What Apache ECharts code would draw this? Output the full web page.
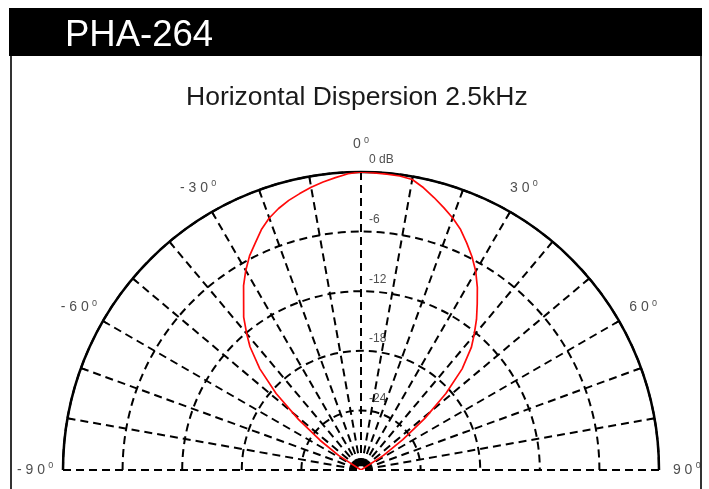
<!DOCTYPE html>
<html><head><meta charset="utf-8">
<script src="https://cdn.jsdelivr.net/npm/echarts@6/dist/echarts.min.js"></script>
<style>html,body{margin:0;padding:0;background:#fff}#c{width:709px;height:489px}</style>
</head><body><div id="c"></div>
<script>
// Polar response (angle in degrees, level in dB)
const angles = [-60,-57,-54,-51,-48,-45,-42,-40,-37.5,-35,-32.5,-30,-27.5,-25,-22.5,-20,-17.5,-15,-12.5,-10,-7.5,-5,-2.5,0,2.5,5,7.5,10,12.5,15,17.5,20,22.5,25,27.5,30,32.5,35,37.5,40,42,45,48,51,54,57,60];
const levels = [-30,-27.3,-24.9,-21.9,-18.5,-15.6,-13.3,-12.1,-10.6,-9.4,-8.0,-6.8,-5.7,-4.8,-3.8,-3.0,-2.4,-1.9,-1.5,-1.1,-0.75,-0.45,-0.15,0,-0.05,-0.1,-0.15,-0.3,-0.9,-1.6,-2.3,-3.0,-3.8,-4.8,-5.8,-6.9,-8.2,-9.6,-10.9,-12.3,-13.4,-15.6,-18.5,-21.7,-24.8,-27.3,-30];
// Radial (dB) ring labels
const ringValues = [0,-6,-12,-18,-24];
const ringLabels = ['0 dB','-6','-12','-18','-24'];
// Angle labels
const angleLabelValues = [-90,-60,-30,0,30,60,90];

const chart = echarts.init(document.getElementById('c'), null, {renderer:'canvas'});
const narrow = "'Liberation Sans Narrow','Liberation Sans',sans-serif";
const dash = [8,5];
const angleLabelRadius = 2.8; // placed just outside the 0 dB rim

function angleText(v){
  return '{n|' + String(v).split('').join(' ') + '} {s|0}';
}

chart.setOption({
  animation:false,
  backgroundColor:'#fff',
  graphic:[
    {type:'rect', shape:{x:9,y:8,width:693,height:48}, style:{fill:'#000'}, z:0},
    {type:'rect', shape:{x:10,y:56,width:2,height:440}, style:{fill:'#333'}, z:0},
    {type:'rect', shape:{x:700,y:56,width:2,height:440}, style:{fill:'#333'}, z:0}
  ],
  title:[
    {text:'PHA-264', left:60, top:12, textStyle:{color:'#fff', fontSize:36.5, fontWeight:'normal', fontFamily:"'Liberation Sans',Arial,sans-serif"}},
    {text:'Horizontal Dispersion 2.5kHz', left:181, top:79, textStyle:{color:'#1a1a1a', fontSize:26.5, fontWeight:'normal', fontFamily:"'Liberation Sans',Arial,sans-serif"}}
  ],
  polar:{center:[361,470], radius:298},
  angleAxis:{
    type:'value', min:-90, max:90, interval:10,
    startAngle:180, endAngle:0, clockwise:true,
    axisLine:{show:true, lineStyle:{color:'#000', width:2.5}},
    axisTick:{show:true, inside:true, length:5, lineStyle:{color:'#000', width:1.5}},
    splitLine:{show:true, lineStyle:{color:'#000', width:2, type:dash}},
    axisLabel:{show:false}
  },
  radiusAxis:{
    type:'value', min:-30, max:0, interval:6,
    axisLine:{show:false}, axisTick:{show:false}, axisLabel:{show:false},
    splitLine:{show:true, lineStyle:{color:'#000', width:2, type:dash}}
  },
  series:[
    {
      type:'line', coordinateSystem:'polar', symbol:'none', smooth:false,
      data: angles.map((a,i)=>[levels[i], a]),
      lineStyle:{color:'#ff0a0a', width:1.7}, z:5, silent:true
    },
    {
      type:'scatter', coordinateSystem:'polar', symbolSize:0, silent:true, clip:false,
      data: ringValues.map((v,i)=>({value:[v,0], label:{formatter:ringLabels[i]}})),
      label:{show:true, position:'right', distance:0, offset:[8,-12], fontSize:12, fontFamily:narrow, color:'#222'},
      z:6
    },
    {
      type:'scatter', coordinateSystem:'polar', symbolSize:0, silent:true, clip:false,
      data: angleLabelValues.map(a=>({value:[angleLabelRadius, a], label:{formatter:angleText(a)}})),
      label:{
        show:true, position:'inside', color:'#222',
        rich:{
          n:{fontSize:14, fontFamily:narrow, color:'#222'},
          s:{fontSize:9, fontFamily:narrow, color:'#222', verticalAlign:'top', padding:[0,0,8,0]}
        }
      },
      z:6
    }
  ]
});
</script>
</body></html>
